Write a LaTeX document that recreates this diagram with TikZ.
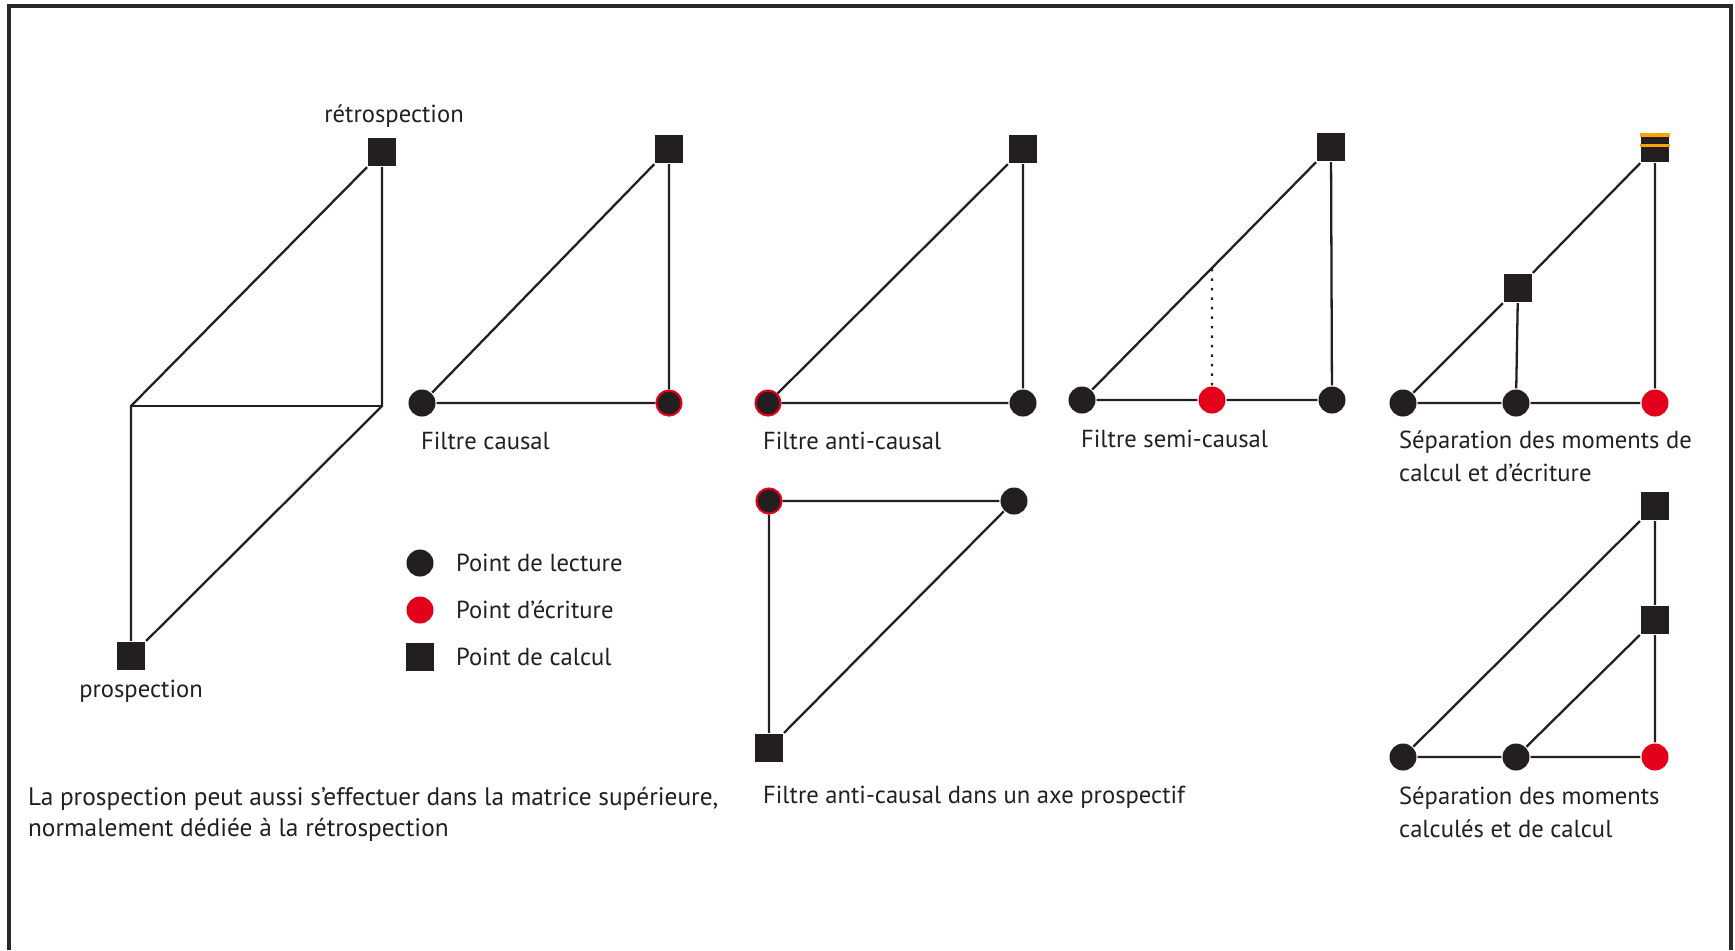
\documentclass[tikz,border=0pt]{standalone}
\usepackage{fontspec}
\setmainfont{PT Sans}
\usetikzlibrary{calc}
\definecolor{inkblack}{RGB}{35,31,32}
\definecolor{writered}{RGB}{226,0,26}
\definecolor{stripeorange}{RGB}{247,166,0}
\definecolor{framegray}{RGB}{40,40,40}
\newcommand\labelfont{\fontsize{7pt}{9.4pt}\selectfont}
\newcommand\notefont{\fontsize{7.2pt}{8.8pt}\selectfont}

\tikzset{
  lecture/.style={circle, fill=inkblack, inner sep=0pt, minimum size=0.27cm},
  ecriture/.style={circle, fill=writered, inner sep=0pt, minimum size=0.27cm},
  ecrlue/.style={circle, fill=inkblack, draw=writered, line width=0.6pt, inner sep=0pt, minimum size=0.25cm},
  calcul/.style={rectangle, fill=inkblack, inner sep=0pt, minimum size=0.28cm},
  legende/.style={anchor=mid west, inner sep=0pt},
  legende2/.style={anchor=north west, inner sep=0pt, align=left}
}

\begin{document}
\begin{tikzpicture}[x=0.01cm, y=-0.01cm, line width=0.65pt,
  every node/.append style={text=inkblack, font=\labelfont}]
  \useasboundingbox (0,0) rectangle (1735,950);
  \draw[framegray, line width=0.9pt] (9,950) -- (9,6) -- (1731,6) -- (1731,950);

  % prospection / retrospection
  \node[calcul] (retro) at (382,152) {};
  \node[calcul] (prosp) at (131,656) {};
  \coordinate (pl) at (131,406);
  \coordinate (pr) at (382,406);
  \node (retrolbl) at (394,116) {rétrospection};
  \node (prosplbl) at (141,691) {prospection};
  \draw[inkblack] (retro) -- (pl) -- (prosp);
  \draw[inkblack] (retro) -- (pr) -- (prosp);
  \draw[inkblack] (pl) -- (pr);
  \node[legende2, font=\notefont] (note) at (27,786)
    {La prospection peut aussi s'effectuer dans la matrice supérieure,\\normalement dédiée à la rétrospection};

  % filtre causal
  \node[lecture] (ca) at (422,403) {};
  \node[ecrlue] (cb) at (669,403) {};
  \node[calcul] (cc) at (669,149) {};
  \draw[inkblack] (ca) -- (cb) -- (cc) -- (ca);
  \node[legende] (calbl) at (420,441) {Filtre causal};

  % filtre anti-causal
  \node[ecrlue] (aa) at (768,403) {};
  \node[lecture] (ab) at (1023,403) {};
  \node[calcul] (ac) at (1023,149) {};
  \draw[inkblack] (aa) -- (ab) -- (ac) -- (aa);
  \node[legende] (aclbl) at (762,441) {Filtre anti-causal};

  % filtre anti-causal, axe prospectif
  \node[ecrlue] (pa) at (769,501) {};
  \node[lecture] (pb) at (1014,501) {};
  \node[calcul] (pc) at (769,748) {};
  \draw[inkblack] (pa) -- (pb) -- (pc) -- (pa);
  \node[legende] (pclbl) at (762,795) {Filtre anti-causal dans un axe prospectif};

  % filtre semi-causal
  \node[lecture] (sa) at (1082,400) {};
  \node[ecriture] (sb) at (1212,400) {};
  \node[lecture] (sc) at (1332,400) {};
  \node[calcul] (sq) at (1331,147) {};
  \coordinate (sd) at ($(sa)!0.522!(sq)$);
  \draw[inkblack] (sa) -- (sb) -- (sc) -- (sq) -- (sa);
  \draw[inkblack, dotted, line width=0.7pt] (sb) -- (sd);
  \node[legende] (sclbl) at (1080,439) {Filtre semi-causal};

  % separation calcul / ecriture
  \node[lecture] (ea) at (1403,403) {};
  \node[lecture] (eb) at (1516,403) {};
  \node[ecriture] (ec) at (1655,403) {};
  \node[calcul] (em) at (1518,288) {};
  \node[calcul] (et) at (1655,148) {};
  \fill[stripeorange] (et.north west) rectangle ($(et.north east)+(0,4)$);
  \fill[stripeorange] ($(et.north west)+(0,11)$) rectangle ($(et.north east)+(0,14)$);
  \draw[inkblack] (ea) -- (eb) -- (ec) -- (et) -- (em) -- (ea);
  \draw[inkblack] (em) -- (eb);
  \node[legende2] (elbl) at (1398,430) {Séparation des moments de\\calcul et d'écriture};

  % separation calcules / calcul
  \node[lecture] (ma) at (1403,757) {};
  \node[lecture] (mb) at (1516,757) {};
  \node[ecriture] (mc) at (1655,757) {};
  \node[calcul] (mm) at (1655,620) {};
  \node[calcul] (mt) at (1655,506) {};
  \draw[inkblack] (ma) -- (mb) -- (mc) -- (mm) -- (mt) -- (ma);
  \draw[inkblack] (mb) -- (mm);
  \node[legende2] (mlbl) at (1398,786) {Séparation des moments\\calculés et de calcul};

  % legende
  \node[lecture] (klec) at (420,563) {};
  \node[ecriture] (kecr) at (420,610) {};
  \node[calcul] (kcal) at (420,657) {};
  \node[legende] (kleclbl) at (455,563) {Point de lecture};
  \node[legende] (kecrlbl) at (455,610) {Point d’écriture};
  \node[legende] (kcallbl) at (455,657) {Point de calcul};
\end{tikzpicture}
\end{document}
